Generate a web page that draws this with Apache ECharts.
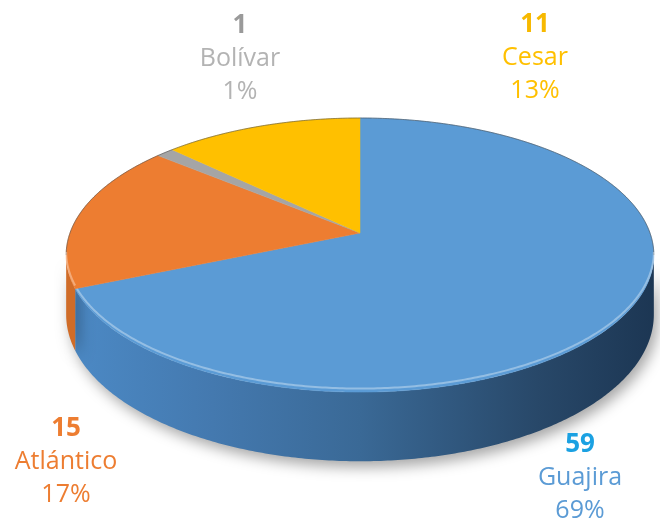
<!DOCTYPE html>
<html>
<head>
<meta charset="utf-8">
<script src="https://cdn.jsdelivr.net/npm/echarts@6/dist/echarts.min.js"></script>
<style>
html, body { margin: 0; padding: 0; background: #fff; }
#chart { width: 660px; height: 520px; }
</style>
</head>
<body>
<div id="chart"></div>
<script>
// data
const regions = ['Guajira', 'Atlántico', 'Bolívar', 'Cesar'];
const counts = [59, 15, 1, 11];

// look
const topColors = ['#5B9BD5', '#ED7D31', '#A5A5A5', '#FFC000'];
const numColors = ['#1BA1E2', '#ED7D31', '#9A9A9A', '#F7B900'];
const textColors = ['#5B9BD5', '#ED7D31', '#B3B3B3', '#FFC000'];
const labelAnchors = [[580, 445], [66, 429], [240, 26], [535, 25]];

// fake 3d pie geometry
const CX = 360, CY = 233, RX = 290, RY = 133.5, PERSP = 0.161, DEPTH = 58;
const VIS0 = Math.acos(-PERSP), VIS1 = 2 * Math.PI - Math.acos(-PERSP);

const total = counts.reduce((a, b) => a + b, 0);
const startAngle = [];
let acc = 0;
counts.forEach(v => { startAngle.push(acc / total * 2 * Math.PI); acc += v; });

function rim(theta, drop) {
    let s = Math.sin(theta), c = Math.cos(theta);
    let f = 1 / (1 + PERSP * c);
    return [CX + RX * s * f, CY - RY * c * f + drop * f];
}
function arc(a0, a1, drop) {
    let pts = [];
    let n = Math.max(2, Math.ceil((a1 - a0) / 0.01));
    for (let k = 0; k <= n; k++) pts.push(rim(a0 + (a1 - a0) * k / n, drop));
    return pts;
}

const blueSide = new echarts.graphic.LinearGradient(65, 0, 655, 0, [
    { offset: 0, color: '#4C8AC6' },
    { offset: 0.25, color: '#4479AF' },
    { offset: 0.5, color: '#3A6996' },
    { offset: 0.8, color: '#284869' },
    { offset: 1, color: '#1C3653' }
], true);
const sideColors = [blueSide, '#D06C28', '#8C8C8C', '#D9A300'];

function renderSide(params, api) {
    let i = params.dataIndex;
    let a0 = startAngle[i];
    let a1 = a0 + api.value(0) / total * 2 * Math.PI;
    a0 = Math.max(a0, VIS0);
    a1 = Math.min(a1, VIS1);
    if (a1 <= a0) return { type: 'group', children: [] };
    let pts = arc(a0, a1, 0).concat(arc(a0, a1, DEPTH).reverse());
    return {
        type: 'polygon',
        shape: { points: pts },
        style: {
            fill: sideColors[i],
            shadowColor: 'rgba(0,0,0,0.35)',
            shadowBlur: 14,
            shadowOffsetX: 4,
            shadowOffsetY: 6
        }
    };
}

function renderTop(params, api) {
    let i = params.dataIndex;
    let a0 = startAngle[i];
    let a1 = a0 + api.value(0) / total * 2 * Math.PI;
    let children = [{
        type: 'polygon',
        shape: { points: [[CX, CY]].concat(arc(a0, a1, 0)) },
        style: { fill: topColors[i], stroke: topColors[i], lineWidth: 0.5 }
    }];
    // thin dark outline on back rim
    let backs = [[Math.max(a0, 0), Math.min(a1, VIS0)], [Math.max(a0, VIS1), Math.min(a1, 2 * Math.PI)]];
    backs.forEach(r => {
        if (r[1] > r[0]) children.push({
            type: 'polyline', shape: { points: arc(r[0], r[1], 0) },
            style: { stroke: 'rgba(70,70,70,0.55)', lineWidth: 1, fill: null }
        });
    });
    // light bevel on front rim
    let f0 = Math.max(a0, VIS0), f1 = Math.min(a1, VIS1);
    if (f1 > f0) children.push({
        type: 'polyline', shape: { points: arc(f0, f1, -3) },
        style: { stroke: 'rgba(255,255,255,0.35)', lineWidth: 2, fill: null }
    });
    return { type: 'group', children: children };
}

function renderLabel(params, api) {
    let i = params.dataIndex;
    let v = api.value(0);
    let p = labelAnchors[i];
    let pct = Math.round(v / total * 100) + '%';
    let font = "'Open Sans', sans-serif";
    return {
        type: 'group',
        children: [
            { type: 'text', x: p[0], y: p[1], style: { text: String(v), fill: numColors[i], font: 'bold 26px ' + font, align: 'center', verticalAlign: 'middle' } },
            { type: 'text', x: p[0], y: p[1] + 33, style: { text: regions[i], fill: textColors[i], font: '25px ' + font, align: 'center', verticalAlign: 'middle' } },
            { type: 'text', x: p[0], y: p[1] + 66, style: { text: pct, fill: textColors[i], font: '25px ' + font, align: 'center', verticalAlign: 'middle' } }
        ]
    };
}

let chart = echarts.init(document.getElementById('chart'), null, { renderer: 'canvas' });
chart.setOption({
    backgroundColor: '#ffffff',
    animation: false,
    series: [
        { type: 'custom', coordinateSystem: 'none', z: 1, renderItem: renderSide, data: counts },
        { type: 'custom', coordinateSystem: 'none', z: 2, renderItem: renderTop, data: counts },
        { type: 'custom', coordinateSystem: 'none', z: 3, renderItem: renderLabel, data: counts }
    ]
});
</script>
</body>
</html>
